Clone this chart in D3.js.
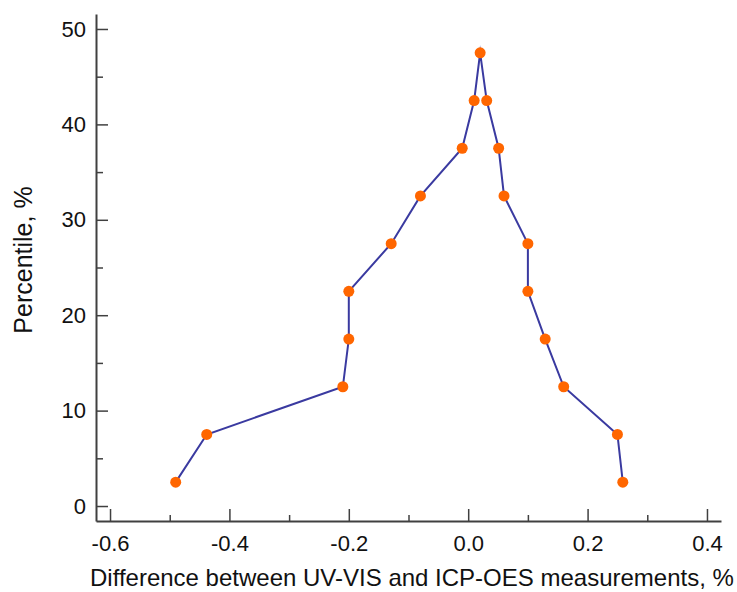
<!DOCTYPE html>
<html>
<head>
<meta charset="utf-8">
<script src="https://cdn.jsdelivr.net/npm/d3@7"></script>
<style>
  html, body { margin: 0; padding: 0; background: #ffffff; }
  svg { display: block; font-family: "Liberation Sans", Arial, sans-serif; }
</style>
</head>
<body>
<svg id="chart" width="737" height="592"></svg>
<script>
// Data (path order along the curve)
const differences = [-0.49, -0.438, -0.21, -0.20, -0.20, -0.129, -0.08, -0.01, 0.01, 0.02,
                     0.031, 0.051, 0.06, 0.10, 0.10, 0.129, 0.16, 0.25, 0.259];
const percentiles = [2.5, 7.5, 12.5, 17.5, 22.5, 27.5, 32.5, 37.5, 42.5, 47.5,
                     42.5, 37.5, 32.5, 27.5, 22.5, 17.5, 12.5, 7.5, 2.5];
const xMajorTicks = [-0.6, -0.4, -0.2, 0.0, 0.2, 0.4];
const xMinorTicks = [-0.5, -0.3, -0.1, 0.1, 0.3];
const yMajorTicks = [0, 10, 20, 30, 40, 50];
const yMinorTicks = [5, 15, 25, 35, 45];
const xTitle = "Difference between UV-VIS and ICP-OES measurements, %";
const yTitle = "Percentile, %";

const points = differences.map((d, i) => ({ x: d, y: percentiles[i] }));

const svg = d3.select("#chart");
const x = d3.scaleLinear().domain([-0.6235, 0.4235]).range([96, 721]);
const y = d3.scaleLinear().domain([-1.57, 51.57]).range([521, 14]);

const axisColor = "#404040";
const fmtX = d => d3.format(".1f")(d).replace("\u2212", "-");

// X axis
const xAxisG = svg.append("g").attr("transform", `translate(0,${y.range()[0]})`);
xAxisG.call(d3.axisBottom(x).tickValues(xMajorTicks).tickSizeInner(-12).tickSizeOuter(0)
  .tickPadding(14).tickFormat(fmtX));
const xMinorG = svg.append("g").attr("transform", `translate(0,${y.range()[0]})`);
xMinorG.call(d3.axisBottom(x).tickValues(xMinorTicks).tickSizeInner(-6).tickSizeOuter(0).tickFormat(""));
xMinorG.select(".domain").remove();

// Y axis
const yAxisG = svg.append("g").attr("transform", `translate(${x.range()[0]},0)`);
yAxisG.call(d3.axisLeft(y).tickValues(yMajorTicks).tickSizeInner(-12).tickSizeOuter(0)
  .tickPadding(10).tickFormat(d3.format("d")));
const yMinorG = svg.append("g").attr("transform", `translate(${x.range()[0]},0)`);
yMinorG.call(d3.axisLeft(y).tickValues(yMinorTicks).tickSizeInner(-7).tickSizeOuter(0).tickFormat(""));
yMinorG.select(".domain").remove();

svg.selectAll(".domain").attr("stroke", axisColor).attr("stroke-width", 2);
svg.selectAll(".tick line").attr("stroke", axisColor).attr("stroke-width", 1.5);
svg.selectAll(".tick text").attr("fill", "#111").attr("font-size", 22)
  .attr("font-family", "'Liberation Sans', Arial, sans-serif");

// Line
const line = d3.line().x(d => x(d.x)).y(d => y(d.y));
svg.append("path")
  .datum(points)
  .attr("d", line)
  .attr("fill", "none")
  .attr("stroke", "#3a3aa0")
  .attr("stroke-width", 2)
  .attr("stroke-linejoin", "miter")
  .attr("stroke-miterlimit", 12);

// Points
svg.append("g").selectAll("circle")
  .data(points)
  .join("circle")
  .attr("cx", d => x(d.x))
  .attr("cy", d => y(d.y))
  .attr("r", 5.5)
  .attr("fill", "#ff6600");

// Titles
svg.append("text")
  .attr("x", 90)
  .attr("y", 586)
  .attr("font-size", 24)
  .attr("fill", "#111")
  .text(xTitle);

svg.append("text")
  .attr("transform", "translate(32,260) rotate(-90)")
  .attr("text-anchor", "middle")
  .attr("font-size", 25)
  .attr("fill", "#111")
  .text(yTitle);
</script>
</body>
</html>
